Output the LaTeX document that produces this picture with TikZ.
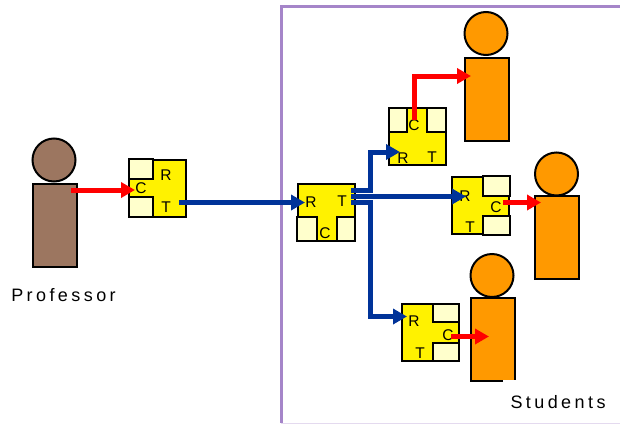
\documentclass[tikz,border=0pt]{standalone}
\usepackage{fontspec}
\setmainfont{Liberation Sans}
\usetikzlibrary{arrows.meta}

\definecolor{corner}{HTML}{FFFFCC}
\definecolor{frameline}{HTML}{A585C9}
\definecolor{brownskin}{HTML}{9C7660}
\definecolor{studentskin}{HTML}{FF9900}
\definecolor{flowblue}{HTML}{003399}

\begin{document}
\begin{tikzpicture}[x=1pt,y=-1pt]
\tikzstyle{head}=[circle,draw=black,line width=2pt,minimum size=43pt,inner sep=0pt]
\tikzstyle{body}=[rectangle,draw=black,line width=2pt,minimum width=44pt,minimum height=83pt,inner sep=0pt]
\tikzstyle{tile}=[rectangle,draw=black,line width=2pt,fill=yellow,minimum size=57pt,inner sep=0pt]
\tikzstyle{pane}=[rectangle,draw=black,line width=2pt,fill=corner,inner sep=0pt]
\tikzstyle{letter}=[inner sep=0pt,font=\fontsize{15.5}{15.5}\selectfont]
\tikzstyle{caption}=[inner sep=0pt,font=\fontsize{18}{18}\selectfont\addfontfeature{LetterSpace=19}]
\tikzstyle{redflow}=[draw=red,line width=5pt,-{Triangle[length=14pt,width=15pt]}]
\tikzstyle{blueflow}=[draw=flowblue,line width=5pt,-{Triangle[length=14pt,width=15pt]}]

\useasboundingbox (0,0) rectangle (620,423);

%frame.
\draw[frameline,line width=3pt] (620,6.5) -- (281,6.5) -- (281,423);
\draw[frameline!30,line width=1pt] (281,423) -- (620,423);

%professor.
\node[head,fill=brownskin] (prof_head) at (54,160) {};
\node[body,fill=brownskin] (prof_body) at (55,225.5) {};
\node[caption] (prof_name) at (63.5,295) {Professor};

%students.
\node[head,fill=studentskin] (top_head) at (486,33.5) {};
\node[body,fill=studentskin] (top_body) at (487,99) {};
\node[head,fill=studentskin] (right_head) at (556.5,174) {};
\node[body,fill=studentskin] (right_body) at (557,237.5) {};
\node[head,fill=studentskin] (low_head) at (492,275.5) {};
\node[body,fill=studentskin] (low_body) at (493,339.5) {};
\draw[white,line width=2.5pt] (503,381.5) -- (517,381.5);
\node[caption] (stud_name) at (558,402) {Students};

%professor tile.
\node[tile] (prof_tile) at (157,188) {};
\node[pane,minimum width=24pt,minimum height=20pt] at (141,169) {};
\node[pane,minimum width=24pt,minimum height=20pt] at (141,207) {};
\node[letter] (prof_c) at (141,188) {C};
\node[letter] (prof_r) at (166,175) {R};
\node[letter] (prof_t) at (166,207) {T};

%centre tile.
\node[tile] (mid_tile) at (326,212.5) {};
\node[pane,minimum width=20pt,minimum height=24pt] at (307,229) {};
\node[pane,minimum width=18pt,minimum height=24pt] at (346,229) {};
\node[letter] (mid_r) at (311,202) {R};
\node[letter] (mid_t) at (342,201) {T};
\node[letter] (mid_c) at (325,233) {C};

%top tile.
\node[tile] (top_tile) at (417.5,136.5) {};
\node[pane,minimum width=18pt,minimum height=24pt] at (398,120) {};
\node[pane,minimum width=19pt,minimum height=24pt] at (436.5,120) {};
\node[letter] (top_c) at (414,125) {C};
\node[letter] (top_r) at (403,158) {R};
\node[letter] (top_t) at (432,157) {T};

%right tile.
\node[tile] (right_tile) at (480.5,205.5) {};
\node[pane,minimum width=27pt,minimum height=20pt] at (496.5,186) {};
\node[pane,minimum width=27pt,minimum height=19pt] at (496.5,225.5) {};
\node[letter] (right_r) at (465,196) {R};
\node[letter] (right_c) at (496,207) {C};
\node[letter] (right_t) at (470,227) {T};

%low tile.
\node[tile] (low_tile) at (430,332.5) {};
\node[pane,minimum width=26pt,minimum height=18pt] at (446,313) {};
\node[pane,minimum width=26pt,minimum height=18pt] at (446,352) {};
\node[letter] (low_r) at (414,321) {R};
\node[letter] (low_c) at (448,335) {C};
\node[letter] (low_t) at (420,353) {T};

%connector ends.
\coordinate (prof_hand) at (71,190);
\coordinate (prof_tile_in) at (135,190);
\coordinate (prof_tile_out) at (179,202.5);
\coordinate (mid_tile_in) at (305,202.5);
\coordinate (mid_out_a) at (351,190);
\coordinate (mid_out_b) at (351,196.5);
\coordinate (mid_out_c) at (351,202.5);
\coordinate (top_tile_in) at (400,152);
\coordinate (right_tile_in) at (466,196.5);
\coordinate (low_tile_in) at (407,316.5);
\coordinate (top_tile_out) at (414.5,120);
\coordinate (top_hand) at (471,76);
\coordinate (right_tile_out) at (503,202.5);
\coordinate (right_hand) at (541,202.5);
\coordinate (low_tile_out) at (451,336.5);
\coordinate (low_hand) at (489,336.5);

\draw[redflow] (prof_hand) -- (prof_tile_in);
\draw[blueflow] (prof_tile_out) -- (mid_tile_in);
\draw[blueflow] (mid_out_a) -- (370,190) |- (top_tile_in);
\draw[blueflow] (mid_out_b) -- (right_tile_in);
\draw[blueflow] (mid_out_c) -- (370,202.5) |- (low_tile_in);
\draw[redflow] (top_tile_out) |- (top_hand);
\draw[redflow] (right_tile_out) -- (right_hand);
\draw[redflow] (low_tile_out) -- (low_hand);

\end{tikzpicture}
\end{document}
